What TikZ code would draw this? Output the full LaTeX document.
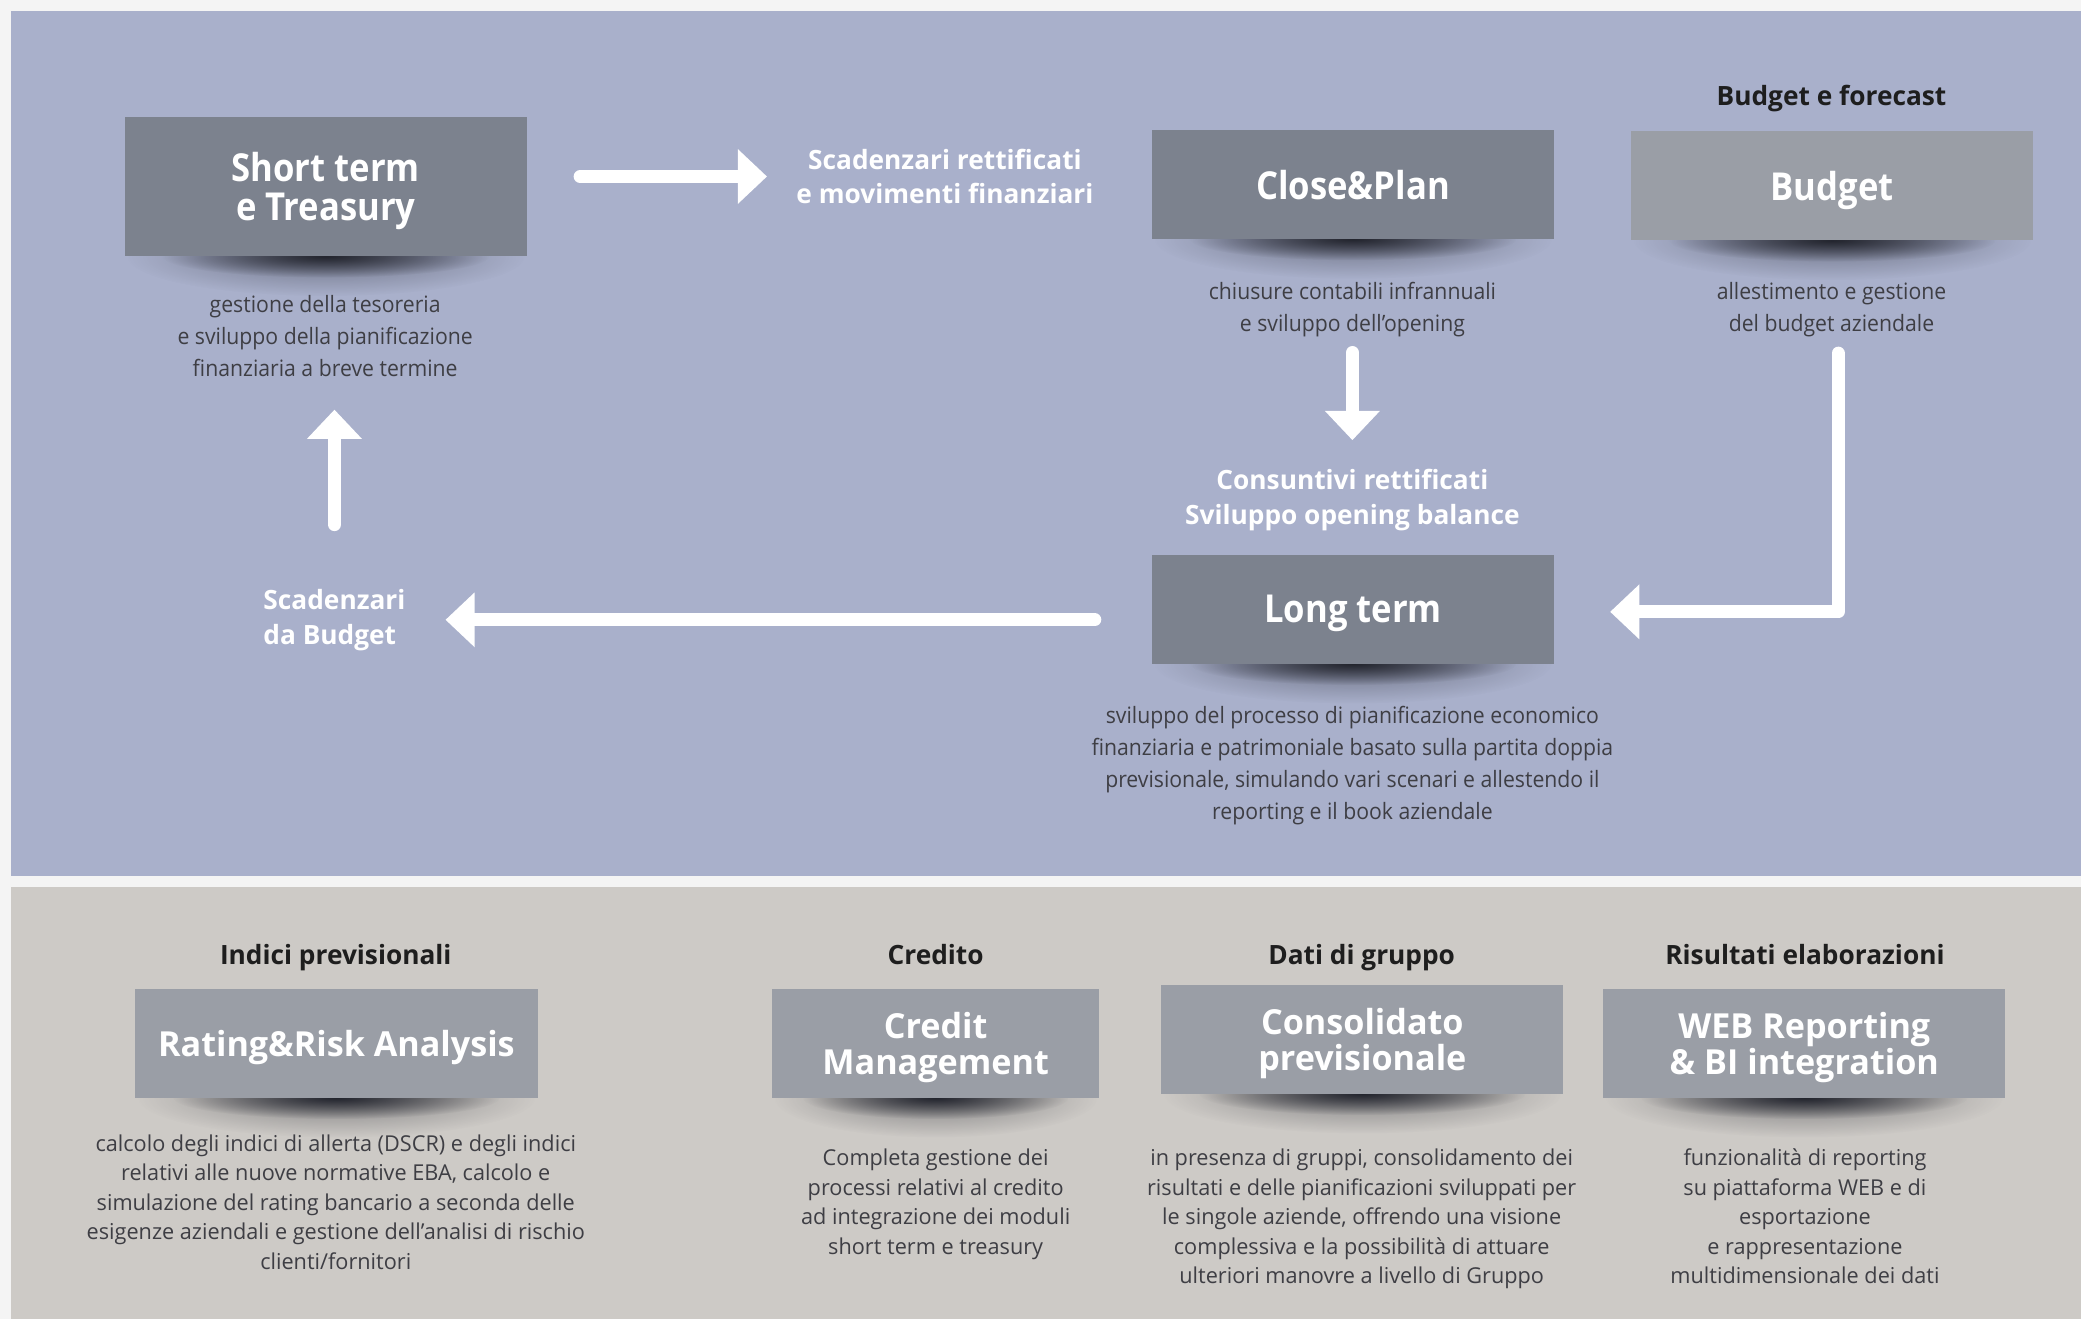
\documentclass[tikz,border=0pt]{standalone}
\usepackage{fontspec}
\setmainfont{Open Sans}[FakeStretch=0.94]
\newfontfamily\ttlface{Open Sans}[FakeStretch=0.9]
\newfontfamily\wideface{Open Sans}[FakeStretch=0.99]
\usepackage{xcolor}
\usetikzlibrary{arrows.meta, positioning, calc, backgrounds, fadings}

\definecolor{pagebg}{HTML}{F4F4F4}
\definecolor{panelblue}{HTML}{A9B0CB}
\definecolor{panelgray}{HTML}{CDCAC6}
\definecolor{boxdark}{HTML}{7C828E}
\definecolor{boxlight}{HTML}{9A9EA6}
\definecolor{dsctext}{HTML}{3E3E44}
\definecolor{hdrtext}{HTML}{1E1E1E}
\definecolor{shadowcol}{HTML}{23252E}

\newcommand{\ttlfont}{\ttlface\bfseries\fontsize{29}{29}\selectfont}
\newcommand{\lowttlfont}{\wideface\bfseries\fontsize{26}{27}\selectfont}
\newcommand{\lblfont}{\wideface\bfseries\fontsize{20}{26}\selectfont}
\newcommand{\hdrfont}{\wideface\bfseries\fontsize{20}{24}\selectfont}
\newcommand{\dscfont}{\fontsize{17}{24}\selectfont}
\newcommand{\lowdscfont}{\wideface\fontsize{16.5}{22.2}\selectfont}

\tikzfading[name=shfade, inner color=transparent!0, outer color=transparent!100]

\tikzset{
	darkbox/.style={fill=boxdark, text=white, font=\ttlfont, align=center,
		minimum width=303pt, minimum height=82pt, inner sep=0pt, text depth=0pt},
	lightbox/.style={darkbox, fill=boxlight},
	lowbox/.style={lightbox, font=\lowttlfont},
	desc/.style={text=dsctext, font=\dscfont, align=center, inner sep=0pt, text depth=0pt},
	lowdesc/.style={desc, font=\lowdscfont},
	flowlbl/.style={text=white, font=\lblfont, align=center, inner sep=0pt, text depth=0pt},
	header/.style={text=hdrtext, font=\hdrfont, inner sep=0pt, text depth=0pt},
	flow/.style={draw=white, line width=10pt, line cap=round, line join=round,
		-{Triangle[length=22pt, width=40pt]}}
}

\begin{document}
\begin{tikzpicture}[x=1pt, y=-1pt]
	
	\useasboundingbox (0,0) rectangle (1568,994);
	
	% ---------- Planning cycle (blue panel) ----------
	\node[darkbox, minimum height=105pt] (st) at (245.5,140.5) {Short term\\e Treasury};
	\node[desc] (std) at (245,253) {gestione della tesoreria\\e sviluppo della pianificazione\\finanziaria a breve termine};
	
	\node[flowlbl] (scadA) at (712,133) {Scadenzari rettificati\\e movimenti finanziari};
	
	\node[darkbox] (cp) at (1019.5,139) {Close\&Plan};
	\node[desc] (cpd) at (1019,231) {chiusure contabili infrannuali\\e sviluppo dell’opening};
	
	\node[flowlbl] (cons) at (1019,374.5) {Consuntivi rettificati\\Sviluppo opening balance};
	
	\node[darkbox] (lt) at (1019.5,459) {Long term};
	\node[desc] (ltd) at (1019,575) {sviluppo del processo di pianificazione economico\\finanziaria e patrimoniale basato sulla partita doppia\\previsionale, simulando vari scenari e allestendo il\\reporting e il book aziendale};
	
	\node[header] (bfH) at (1380,72) {Budget e forecast};
	\node[lightbox] (bu) at (1380.5,140) {Budget};
	\node[desc] (bud) at (1380,231.5) {allestimento e gestione\\del budget aziendale};
	
	\node[flowlbl, align=left] (scadB) at (252,465) {Scadenzari\\da Budget};
	
	% arrows of the cycle
	\draw[flow] ([xshift=40pt]st.east |- scadA.west) -- ([xshift=-22pt]scadA.west);
	\draw[flow] ([yshift=-16pt]cpd.south) -- ([yshift=22pt]cons.north);
	\draw[flow] ([xshift=5pt,yshift=-16pt]bud.south) |- ([xshift=42pt,yshift=-2pt]lt.east);
	\draw[flow] ([xshift=-43pt,yshift=-8pt]lt.west) -- ([xshift=30pt,yshift=-2pt]scadB.east);
	\draw[flow, shorten <=49pt, shorten >=25pt] (scadB.north) -- (scadB.north |- std.south);
	
	% ---------- Modules (gray panel) ----------
	\node[header] (ipH) at (253,719) {Indici previsionali};
	\node[lowbox] (rr) at (253.5,786) {Rating\&Risk Analysis};
	\node[lowdesc] (rrd) at (253,905.5) {calcolo degli indici di allerta (DSCR) e degli indici\\relativi alle nuove normative EBA, calcolo e\\simulazione del rating bancario a seconda delle\\esigenze aziendali e gestione dell’analisi di rischio\\clienti/fornitori};
	
	\node[header] (crH) at (705,719) {Credito};
	\node[lowbox, minimum width=246pt] (cm) at (705,786) {Credit\\Management};
	\node[lowdesc] (cmd) at (705,905.5) {Completa gestione dei\\processi relativi al credito\\ad integrazione dei moduli\\short term e treasury};
	
	\node[header] (dgH) at (1026,719) {Dati di gruppo};
	\node[lowbox] (co) at (1026.5,783) {Consolidato\\previsionale};
	\node[lowdesc] (cod) at (1026,916.5) {in presenza di gruppi, consolidamento dei\\risultati e delle pianificazioni sviluppati per\\le singole aziende, offrendo una visione\\complessiva e la possibilità di attuare\\ulteriori manovre a livello di Gruppo};
	
	\node[header] (reH) at (1360,719) {Risultati elaborazioni};
	\node[lowbox] (wb) at (1359.5,786) {WEB Reporting\\\& BI integration};
	\node[lowdesc] (wbd) at (1360,916.5) {funzionalità di reporting\\su piattaforma WEB e di\\esportazione\\e rappresentazione\\multidimensionale dei dati};
	
	% ---------- Panels and box shadows ----------
	\begin{pgfonlayer}{background}
		\fill[pagebg] (0,0) rectangle (1568,994);
		\fill[panelblue] (8,8) rectangle (1568,660);
		\fill[panelgray] (8,668) rectangle (1568,994);
		% soft halo, then darker core under each box
		\foreach \b/\ra/\rb in {st/150/123, cp/150/123, lt/150/123, bu/150/123,
			rr/150/123, cm/122/100, co/150/123, wb/150/123} {
			\fill[shadowcol, opacity=.45, path fading=shfade] (\b.south) ellipse (\ra pt and 30pt);
			\fill[shadowcol, path fading=shfade] (\b.south) ellipse (\rb pt and 16pt);
		}
	\end{pgfonlayer}
	
\end{tikzpicture}
\end{document}
